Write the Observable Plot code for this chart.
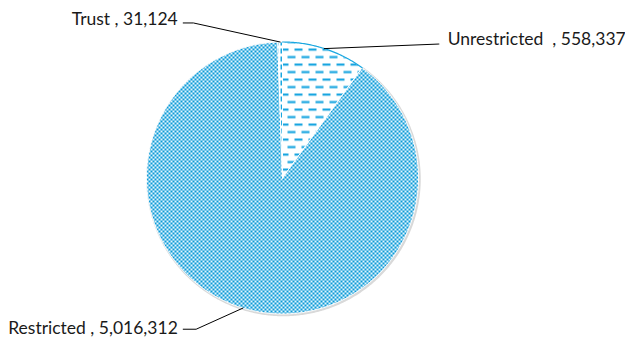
<!DOCTYPE html>
<html>
<head>
<meta charset="utf-8">
<script src="https://cdn.jsdelivr.net/npm/d3@7"></script>
<script src="https://cdn.jsdelivr.net/npm/@observablehq/plot@0.6"></script>
<style>
  html, body { margin: 0; padding: 0; background: #fff; }
  #chart { width: 625px; height: 341px; }
  text { white-space: pre; }
</style>
</head>
<body>
<div id="chart"></div>
<script>
// ---- data ----
const categories = ["Unrestricted", "Restricted", "Trust"];
const values = [558337, 5016312, 31124];
const labelTexts = ["Unrestricted  , 558,337", "Restricted , 5,016,312", "Trust , 31,124"];
// label anchor positions (pie-radius units, pie centre at 0,0)
const labelX = [1.215, -0.770, -0.770];
const labelY = [1.020, -1.108, 1.165];
const labelAnchor = ["start", "end", "end"];
// leader-line points (pie-radius units)
const elbowX = [1.150, -0.635, -0.655];
const elbowY = [0.985, -1.112, 1.140];
const startX = [1.150, -0.730, -0.730];
const startY = [0.985, -1.112, 1.140];
const patterns = ["url(#dash)", "url(#checker)", "url(#dashv)"];

// ---- geometry via d3.pie ----
const arcs = d3.pie().sort(null).value(d => d.value)(
  categories.map((c, i) => ({ name: c, value: values[i], i }))
);
const pt = (a, r) => [Math.sin(a) * r, Math.cos(a) * r];
const slicePts = [];
const rimPts = [];
arcs.forEach(a => {
  const name = a.data.name;
  slicePts.push({ name, x: 0, y: 0, fill: patterns[a.data.i] });
  const n = Math.max(2, Math.ceil((a.endAngle - a.startAngle) / 0.01));
  for (let k = 0; k <= n; k++) {
    const ang = a.startAngle + (a.endAngle - a.startAngle) * k / n;
    const [x, y] = pt(ang, 1);
    slicePts.push({ name, x, y, fill: patterns[a.data.i] });
    rimPts.push({ name, x, y });
  }
  slicePts.push({ name, x: 0, y: 0, fill: patterns[a.data.i] });
});
const leaders = [];
arcs.forEach(a => {
  const i = a.data.i;
  const mid = (a.startAngle + a.endAngle) / 2;
  const [ex, ey] = pt(mid, 1);
  leaders.push({ name: categories[i], x: startX[i], y: startY[i] });
  leaders.push({ name: categories[i], x: elbowX[i], y: elbowY[i] });
  leaders.push({ name: categories[i], x: ex, y: ey });
});
const labels = categories.map((c, i) => ({ text: labelTexts[i], x: labelX[i], y: labelY[i], anchor: labelAnchor[i] }));

// ---- layout ----
const W = 625, H = 341, CX = 282, CY = 177.5, R = 136;

function defsMark() {
  const ns = "http://www.w3.org/2000/svg";
  const g = document.createElementNS(ns, "defs");
  g.innerHTML = `
    <pattern id="checker" width="4" height="4" patternUnits="userSpaceOnUse">
      <rect width="4" height="4" fill="#e6f5fc"/>
      <rect x="0" y="0" width="2" height="2" fill="#0a9ad8"/>
      <rect x="2" y="2" width="2" height="2" fill="#0a9ad8"/>
    </pattern>
    <pattern id="dash" width="14" height="15" patternUnits="userSpaceOnUse">
      <rect width="14" height="15" fill="#ffffff"/>
      <rect x="0" y="3" width="8" height="2.2" fill="#18a5e0"/>
      <rect x="7" y="10.5" width="7" height="2.2" fill="#18a5e0"/>
      <rect x="0" y="10.5" width="1" height="2.2" fill="#18a5e0"/>
    </pattern>
    <pattern id="dashv" width="4" height="8" patternUnits="userSpaceOnUse">
      <rect width="4" height="8" fill="#ffffff"/>
      <rect x="0" y="0" width="2" height="5" fill="#1aa7e0"/>
    </pattern>`;
  return g;
}

const textStyle = { x: "x", y: "y", text: "text", fontSize: 17.5, fill: "#1a1a1a" };

const plot = Plot.plot({
  width: W,
  height: H,
  margin: 0,
  x: { domain: [-CX / R, (W - CX) / R], axis: null },
  y: { domain: [-(H - CY) / R, CY / R], axis: null },
  color: { type: "identity" },
  style: { fontFamily: "Lato, 'Open Sans', sans-serif", background: "#fff" },
  marks: [
    defsMark,
    // faint shadow rim
    Plot.line(rimPts.filter(d => d.name !== "Unrestricted"), { x: "x", y: "y", z: "name", stroke: "#d9d9d9", strokeWidth: 2.5, dx: 1, dy: 1 }),
    Plot.line(slicePts, { x: "x", y: "y", z: "name", fill: "fill", stroke: "#ffffff", strokeWidth: 1 }),
    Plot.line(rimPts.filter(d => d.name === "Unrestricted"), { x: "x", y: "y", stroke: "#1aa7e0", strokeWidth: 1.2 }),
    Plot.line(leaders, { x: "x", y: "y", z: "name", stroke: "#000", strokeWidth: 1 }),
    Plot.text(labels.filter(d => d.anchor === "start"), { ...textStyle, textAnchor: "start" }),
    Plot.text(labels.filter(d => d.anchor === "end"), { ...textStyle, textAnchor: "end" })
  ]
});
document.getElementById("chart").appendChild(plot);
</script>
</body>
</html>
